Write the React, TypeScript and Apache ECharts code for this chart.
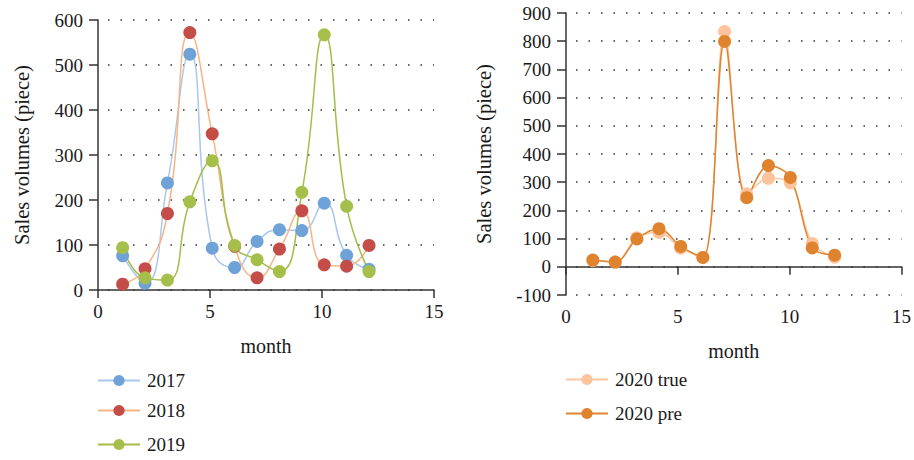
import React, { useEffect, useRef } from "react";
import * as echarts from "echarts";

// Left chart: months (as plotted positions) and yearly sales
const xLeft = [1.1, 2.1, 3.1, 4.1, 5.1, 6.1, 7.1, 8.1, 9.1, 10.1, 11.1, 12.1];
const s2017 = [76, 15, 238, 524, 93, 50, 108, 134, 132, 193, 77, 46];
const s2018 = [13, 47, 170, 572, 347, 97, 27, 91, 176, 56, 53, 99];
const s2019 = [94, 27, 22, 196, 287, 99, 67, 41, 217, 567, 186, 41];

// Right chart: 2020 true vs predicted
const xRight = [1.2, 2.2, 3.17, 4.16, 5.13, 6.12, 7.09, 8.08, 9.05, 10.03, 11.01, 12.01];
const s2020true = [22, 17, 103, 122, 66, 33, 834, 259, 314, 298, 83, 34];
const s2020pre = [24, 17, 99, 135, 72, 33, 799, 245, 359, 317, 67, 41];

const xTicks = [0, 5, 10, 15];
const leftYTicks = [0, 100, 200, 300, 400, 500, 600];
const rightYTicks = [-100, 0, 100, 200, 300, 400, 500, 600, 700, 800, 900];

const FONT = "Liberation Serif";
const TXT = "#1a1a1a";
const AX = "#333333";
const FS = 19;

const pairs = (xs: number[], ys: number[]) => ys.map((y, i) => [xs[i], y]);

export default function App() {
  const ref = useRef<HTMLDivElement>(null);
  useEffect(() => {
    document.body.style.margin = "0";
    const chart = echarts.init(ref.current!, null, { renderer: "svg" });

    const xAxisBase = (gridIndex: number, nameGap: number) => ({
      type: "value",
      gridIndex,
      min: xTicks[0],
      max: xTicks[xTicks.length - 1],
      interval: 5,
      name: "month",
      nameLocation: "middle",
      nameGap,
      nameTextStyle: { fontFamily: FONT, fontSize: 20, color: TXT },
      axisLine: { show: true, lineStyle: { color: AX, width: 1.5 } },
      axisTick: { show: true, inside: false, length: 8, lineStyle: { color: AX, width: 1.5 } },
      axisLabel: { fontFamily: FONT, fontSize: FS, color: TXT, margin: 12 },
      splitLine: { show: false },
    });

    const yAxisBase = (gridIndex: number, ticks: number[], nameGap: number) => ({
      type: "value",
      gridIndex,
      min: ticks[0],
      max: ticks[ticks.length - 1],
      interval: 100,
      name: "Sales volumes (piece)",
      nameLocation: "middle",
      nameGap,
      nameTextStyle: { fontFamily: FONT, fontSize: 20.5, color: TXT },
      axisLine: { show: true, onZero: false, lineStyle: { color: AX, width: 1.5 } },
      axisTick: { show: true, inside: false, length: 9, lineStyle: { color: AX, width: 1.5 } },
      axisLabel: { fontFamily: FONT, fontSize: FS, color: TXT, margin: 15 },
      splitLine: {
        show: true,
        lineStyle: { color: "#333", width: 1.5, type: [1.5, 11], dashOffset: -10 },
      },
    });

    const lineSeries = (
      name: string,
      xs: number[],
      ys: number[],
      idx: number,
      lineColor: string,
      markColor: string,
      smooth: number
    ) => ({
      name,
      type: "line",
      xAxisIndex: idx,
      yAxisIndex: idx,
      data: pairs(xs, ys),
      smooth,
      symbol: "circle",
      symbolSize: 13,
      showSymbol: true,
      lineStyle: { color: lineColor, width: 1.5 },
      itemStyle: { color: markColor },
    });

    const legendBase = (name: string, left: number, top: number) => ({
      data: [name],
      left,
      top,
      orient: "vertical",
      padding: 0,
      itemWidth: 42,
      itemHeight: 14,
      itemGap: 0,
      textStyle: { fontFamily: FONT, fontSize: FS, color: TXT, padding: [0, 0, 0, 2] },
      selectedMode: false,
    });

    chart.setOption({
      animation: false,
      backgroundColor: "#ffffff",
      grid: [
        { left: 98, top: 20, width: 336, height: 270, containLabel: false },
        { left: 566, top: 13, width: 336, height: 282, containLabel: false },
      ],
      xAxis: [xAxisBase(0, 46), xAxisBase(1, 46)],
      yAxis: [yAxisBase(0, leftYTicks, 66), yAxisBase(1, rightYTicks, 72)],
      legend: [
        legendBase("2017", 97, 371),
        legendBase("2018", 97, 401),
        legendBase("2019", 97, 435),
        legendBase("2020 true", 565, 370),
        legendBase("2020 pre", 565, 404),
      ],
      series: [
        lineSeries("2017", xLeft, s2017, 0, "#a9c8ec", "#6fa3d8", 0.5),
        lineSeries("2018", xLeft, s2018, 0, "#f8b486", "#c44d48", 0.5),
        lineSeries("2019", xLeft, s2019, 0, "#a2bd4a", "#a6bf4b", 0.5),
        lineSeries("2020 true", xRight, s2020true, 1, "#fcc6a0", "#fcc39c", 0.35),
        lineSeries("2020 pre", xRight, s2020pre, 1, "#e0842f", "#e0832f", 0.35),
      ],
    });
    return () => chart.dispose();
  }, []);
  return <div ref={ref} style={{ width: 914, height: 460 }} />;
}
